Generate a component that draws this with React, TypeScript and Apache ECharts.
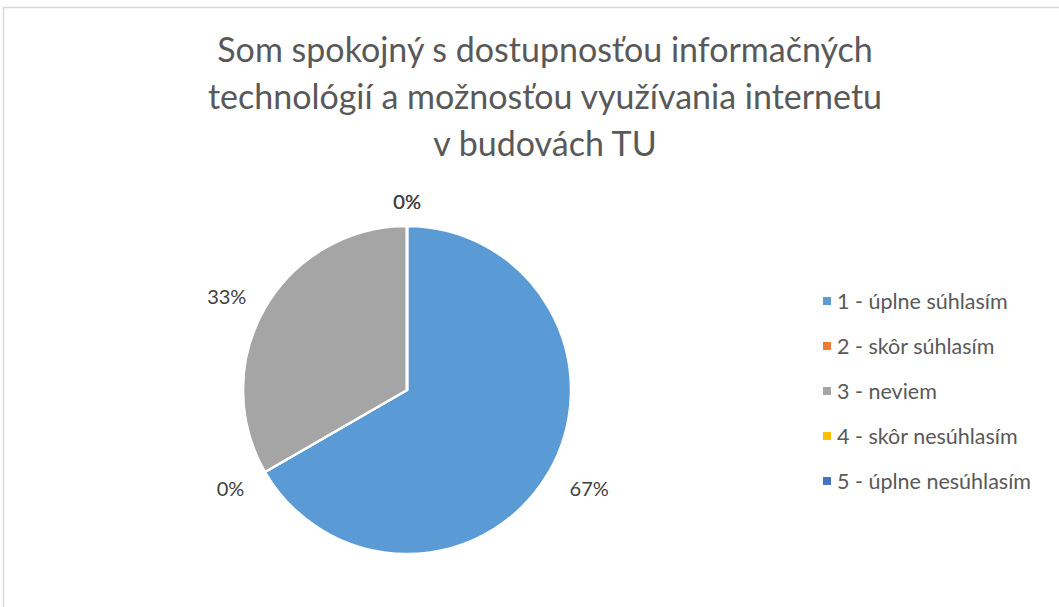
import React, { useEffect, useRef } from "react";
import * as echarts from "echarts";

const categories = [
  "1 - úplne súhlasím",
  "2 - skôr súhlasím",
  "3 - neviem",
  "4 - skôr nesúhlasím",
  "5 - úplne nesúhlasím",
];
const values = [2, 0, 1, 0, 0];
const colors = ["#5B9BD5", "#ED7D31", "#A5A5A5", "#FFC000", "#4472C4"];
const titleText =
  "Som spokojný s dostupnosťou informačných\ntechnológií a možnosťou využívania internetu\nv budovách TU";

// label nudges (style only)
const labelNudge: Record<number, [number, number]> = {
  0: [0, 7],
  1: [0, 7],
  2: [2, -3],
  3: [19, -7],
  4: [19, -7],
};

export default function App() {
  const ref = useRef<HTMLDivElement>(null);
  useEffect(() => {
    if (!ref.current) return;
    const chart = echarts.init(ref.current, null, { renderer: "svg" });
    chart.setOption({
      animation: false,
      backgroundColor: "#ffffff",
      color: colors,
      title: {
        text: titleText,
        left: 540,
        top: 20,
        textAlign: "center",
        textStyle: {
          fontFamily: "Lato",
          fontSize: 34,
          fontWeight: "normal",
          color: "#595959",
          lineHeight: 47,
        },
      },
      legend: {
        orient: "vertical",
        left: 816,
        top: 285,
        itemWidth: 10,
        itemHeight: 10,
        itemGap: 23,
        icon: "rect",
        textStyle: {
          fontFamily: "Lato",
          fontSize: 21.5,
          color: "#595959",
          lineHeight: 22,
        },
        data: categories,
      },
      graphic: [
        {
          type: "rect",
          shape: { x: 3.5, y: 7.5, width: 1200, height: 800 },
          style: { fill: "none", stroke: "#d9d9d9", lineWidth: 1.5 },
          silent: true,
        },
      ],
      series: [
        {
          type: "pie",
          center: [407, 390],
          radius: [0, 164],
          startAngle: 90,
          clockwise: true,
          avoidLabelOverlap: false,
          itemStyle: { borderColor: "#ffffff", borderWidth: 2.5 },
          label: {
            show: true,
            position: "outside",
            formatter: (p: any) => Math.round(p.percent) + "%",
            fontFamily: "Lato",
            fontSize: 20,
            color: "#404040",
          },
          labelLine: { show: false, length: 18, length2: 0 },
          labelLayout: (p: any) => {
            const n = labelNudge[p.dataIndex] || [0, 0];
            return { dx: n[0], dy: n[1] };
          },
          data: categories.map((name, i) => ({ name, value: values[i] })),
        },
      ],
    });
    return () => chart.dispose();
  }, []);
  return (
    <div
      ref={ref}
      style={{ position: "fixed", left: 0, top: 0, width: 1059, height: 607 }}
    />
  );
}
